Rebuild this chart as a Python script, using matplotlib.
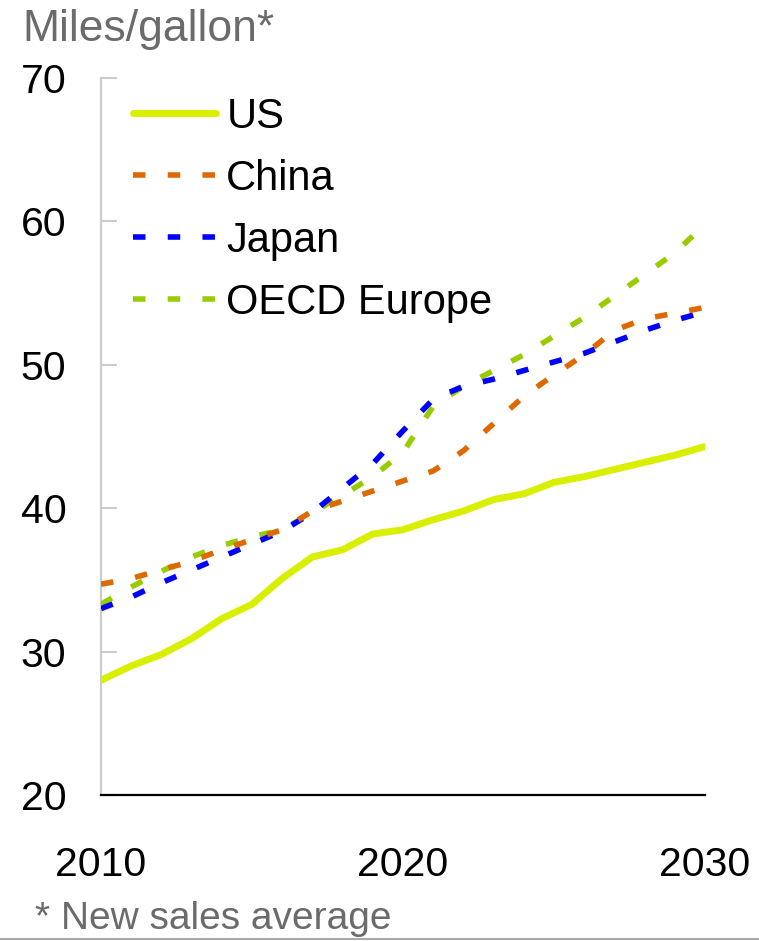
import matplotlib
matplotlib.use("Agg")
import matplotlib.pyplot as plt
from matplotlib.lines import Line2D

plt.rcParams['font.family'] = ['Liberation Sans', 'DejaVu Sans']
plt.rcParams['lines.scale_dashes'] = False

years = list(range(2010, 2031))

us = [28.0, 29.0, 29.8, 30.9, 32.3, 33.3, 35.1, 36.6, 37.1, 38.2, 38.5,
      39.2, 39.8, 40.6, 41.0, 41.8, 42.2, 42.7, 43.2, 43.7, 44.3]
china = [34.7, 35.1, 35.7, 36.3, 37.1, 37.8, 38.5, 39.8, 40.5, 41.2, 41.9,
         42.6, 44.0, 45.9, 47.8, 49.3, 50.7, 52.4, 53.2, 53.6, 54.0]
japan = [33.0, 33.8, 34.8, 35.7, 36.6, 37.5, 38.4, 39.7, 41.4, 43.1, 45.4,
         47.6, 48.5, 49.0, 49.6, 50.2, 50.8, 51.6, 52.4, 53.1, 53.7]
europe = [33.3, 34.5, 35.6, 36.6, 37.4, 38.0, 38.5, 39.7, 40.9, 42.2, 43.9,
          47.1, 48.5, 49.6, 50.7, 52.0, 53.3, 54.8, 56.3, 57.8, 59.8]

y_ticks = [20, 30, 40, 50, 60, 70]
x_ticks = [2010, 2020, 2030]

c_us = '#d8f000'
c_china = '#de6900'
c_japan = '#0000ff'
c_europe = '#99cc00'
grey_txt = '#6b6b6b'

W, H = 759, 941
fig = plt.figure(figsize=(W / 100, H / 100), dpi=100)
ax = fig.add_axes([101 / W, 1 - 795 / H, (705 - 101) / W, (795 - 78) / H])

dash = (0, (9.0, 16.0))
ax.plot(years, us, color=c_us, lw=5.0, solid_capstyle='round', zorder=3, label='US')
ax.plot(years, europe, color=c_europe, lw=4.0, ls=dash, zorder=4, label='OECD Europe')
ax.plot(years, japan, color=c_japan, lw=4.0, ls=dash, zorder=5, label='Japan')
ax.plot(years, china, color=c_china, lw=4.0, ls=dash, zorder=6, label='China')

ax.set_xlim(2010, 2030)
ax.set_ylim(20, 70)
ax.set_yticks(y_ticks)
ax.set_xticks(x_ticks)

for s in ['top', 'right']:
    ax.spines[s].set_visible(False)
ax.spines['left'].set_color('#cccccc')
ax.spines['left'].set_linewidth(1.6)
ax.spines['bottom'].set_color('black')
ax.spines['bottom'].set_linewidth(1.6)
ax.spines['bottom'].set_zorder(10)

ax.tick_params(axis='y', direction='in', length=11.5, width=1.5, color='#cccccc',
               labelsize=29.5, pad=25)
ax.tick_params(axis='x', length=0, labelsize=29.5, pad=37)

handles, labels = ax.get_legend_handles_labels()
order = ['US', 'China', 'Japan', 'OECD Europe']
hmap = dict(zip(labels, handles))
ax.legend([hmap[k] for k in order], order, loc='upper left',
          bbox_to_anchor=(32 / 604, 0.974), frameon=False, fontsize=30,
          handlelength=2.0, handletextpad=0.24, labelspacing=0.53,
          borderpad=0, borderaxespad=0)

fig.text(22 / W, 1 - 9 / H, 'Miles/gallon*', fontsize=32, color=grey_txt,
         ha='left', va='top')
fig.text(35 / W, 1 - 937 / H, '* New sales average', fontsize=28, color=grey_txt,
         ha='left', va='bottom')

fig.add_artist(Line2D([0, 1], [1 - 938.5 / H, 1 - 938.5 / H], transform=fig.transFigure,
                      color='#aaaaaa', lw=1.5))

fig.savefig('out.png', dpi=100)
